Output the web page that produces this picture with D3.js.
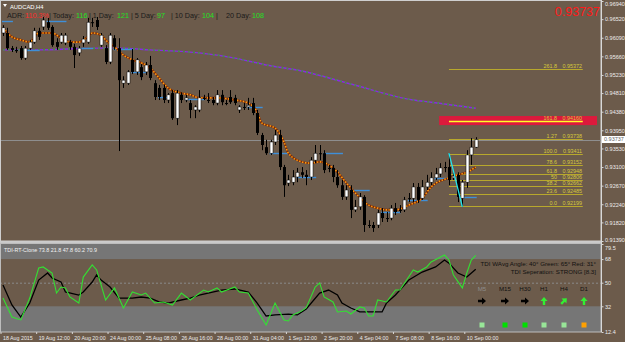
<!DOCTYPE html>
<html><head><meta charset="utf-8">
<script src="https://cdnjs.cloudflare.com/ajax/libs/d3/7.8.5/d3.min.js"></script>
<style>
body{margin:0;background:#6c5b4b;}
svg{display:block;font-family:"Liberation Sans",Arial,sans-serif;}
</style>
</head><body>
<svg id="c" width="625" height="342"></svg>
<script>
// ---------------- DATA ----------------
const opens  = [0.9620,0.9620,0.9585,0.9581,0.9585,0.9562,0.9585,0.9599,0.9625,0.9634,0.9645,0.9634,0.9599,0.9599,0.9597,0.9599,0.9588,0.9574,0.9597,0.9599,0.9645,0.9650,0.9592,0.9585,0.9553,0.9608,0.9585,0.9504,0.9504,0.9558,0.9530,0.9541,0.9530,0.9546,0.9504,0.9493,0.9493,0.9465,0.9481,0.9423,0.9477,0.9465,0.9458,0.9442,0.9442,0.9470,0.9465,0.9465,0.9458,0.9477,0.9458,0.9472,0.9470,0.9442,0.9449,0.9449,0.9458,0.9435,0.9384,0.9356,0.9342,0.9368,0.9384,0.9310,0.9273,0.9275,0.9287,0.9298,0.9292,0.9287,0.9326,0.9342,0.9342,0.9308,0.9308,0.9287,0.9268,0.9241,0.9257,0.9211,0.9218,0.9241,0.9176,0.9176,0.9176,0.9204,0.9192,0.9192,0.9215,0.9211,0.9211,0.9238,0.9238,0.9264,0.9238,0.9264,0.9275,0.9285,0.9294,0.9310,0.9310,0.9285,0.9292,0.9238,0.9275,0.9338,0.9356];
const highs  = [0.9638,0.9632,0.9590,0.9588,0.9590,0.9590,0.9604,0.9632,0.9632,0.9657,0.9655,0.9638,0.9608,0.9620,0.9620,0.9604,0.9595,0.9590,0.9613,0.9655,0.9655,0.9657,0.9620,0.9592,0.9620,0.9615,0.9608,0.9520,0.9534,0.9583,0.9562,0.9548,0.9553,0.9567,0.9511,0.9500,0.9500,0.9481,0.9488,0.9488,0.9483,0.9477,0.9465,0.9453,0.9488,0.9477,0.9481,0.9472,0.9488,0.9488,0.9465,0.9488,0.9477,0.9453,0.9458,0.9470,0.9470,0.9442,0.9389,0.9373,0.9373,0.9396,0.9396,0.9315,0.9292,0.9303,0.9308,0.9310,0.9303,0.9333,0.9361,0.9361,0.9349,0.9315,0.9315,0.9303,0.9280,0.9268,0.9268,0.9234,0.9250,0.9245,0.9187,0.9183,0.9211,0.9215,0.9206,0.9222,0.9227,0.9222,0.9241,0.9250,0.9273,0.9273,0.9280,0.9292,0.9298,0.9308,0.9319,0.9322,0.9342,0.9298,0.9298,0.9280,0.9349,0.9377,0.9379];
const lows   = [0.9613,0.9581,0.9576,0.9574,0.9558,0.9558,0.9581,0.9595,0.9604,0.9627,0.9627,0.9588,0.9581,0.9595,0.9592,0.9581,0.9539,0.9567,0.9588,0.9595,0.9634,0.9627,0.9588,0.9548,0.9548,0.9581,0.9347,0.9493,0.9500,0.9525,0.9523,0.9511,0.9523,0.9511,0.9465,0.9465,0.9458,0.9458,0.9419,0.9407,0.9458,0.9460,0.9423,0.9423,0.9437,0.9465,0.9458,0.9453,0.9453,0.9453,0.9453,0.9456,0.9453,0.9435,0.9442,0.9442,0.9430,0.9384,0.9349,0.9338,0.9338,0.9361,0.9303,0.9241,0.9266,0.9268,0.9275,0.9285,0.9268,0.9280,0.9319,0.9326,0.9296,0.9298,0.9275,0.9262,0.9234,0.9234,0.9192,0.9206,0.9211,0.9160,0.9169,0.9160,0.9169,0.9183,0.9183,0.9187,0.9199,0.9204,0.9206,0.9229,0.9229,0.9227,0.9234,0.9257,0.9268,0.9280,0.9287,0.9298,0.9268,0.9280,0.9229,0.9218,0.9262,0.9315,0.9354];
const closes = [0.9632,0.9585,0.9581,0.9578,0.9562,0.9585,0.9599,0.9625,0.9611,0.9650,0.9632,0.9592,0.9588,0.9615,0.9615,0.9588,0.9569,0.9585,0.9606,0.9645,0.9644,0.9634,0.9615,0.9553,0.9615,0.9588,0.9511,0.9511,0.9530,0.9530,0.9558,0.9518,0.9546,0.9516,0.9472,0.9472,0.9465,0.9477,0.9423,0.9481,0.9465,0.9470,0.9442,0.9449,0.9470,0.9469,0.9464,0.9458,0.9477,0.9460,0.9457,0.9460,0.9458,0.9449,0.9448,0.9453,0.9435,0.9389,0.9361,0.9342,0.9368,0.9384,0.9310,0.9268,0.9280,0.9287,0.9298,0.9292,0.9287,0.9326,0.9342,0.9341,0.9303,0.9307,0.9287,0.9268,0.9241,0.9257,0.9211,0.9218,0.9241,0.9176,0.9175,0.9169,0.9204,0.9192,0.9191,0.9215,0.9206,0.9210,0.9234,0.9237,0.9264,0.9234,0.9264,0.9275,0.9285,0.9294,0.9308,0.9309,0.9280,0.9289,0.9241,0.9275,0.9338,0.9356,0.93737];

const timeLabels    = ["18 Aug 2015","19 Aug 12:00","20 Aug 20:00","24 Aug 00:00","25 Aug 08:00","26 Aug 16:00","28 Aug 00:00","31 Aug 04:00","1 Sep 12:00","2 Sep 20:00","4 Sep 04:00","7 Sep 08:00","8 Sep 16:00","10 Sep 00:00"];
const timeLabelBars = [0,8,16,24,32,40,48,56,64,72,80,88,96,104];
const priceTicks    = [0.96940,0.96520,0.96090,0.95660,0.95230,0.94810,0.94380,0.93950,0.93530,0.93100,0.92670,0.92240,0.91820,0.91390];

const maFastBars = [0,2,4,6,8,11,13,15,17,19,20,22,23,25,27,29,31,33,35,37,40,42,44,48,52,55,57,58,61,63,64,67,69,71,73,75,77,79,82,84,86,88,91,94,96,100,102,104,106];
const maFastVals = [0.9632,0.9611,0.9604,0.9599,0.9620,0.9620,0.9608,0.9599,0.9599,0.9611,0.9620,0.9615,0.9604,0.9588,0.9569,0.9558,0.9551,0.9539,0.9516,0.9493,0.9481,0.9477,0.9470,0.9470,0.9465,0.9458,0.9437,0.9412,0.9400,0.9368,0.9342,0.9322,0.9319,0.9322,0.9315,0.9298,0.9273,0.9250,0.9222,0.9215,0.9211,0.9211,0.9222,0.9238,0.9264,0.9285,0.9292,0.9298,0.9310];
const maSlowBars = [0,7,22,26,33,44,52,59,67,78,92,96,106];
const maSlowVals = [0.9581,0.9581,0.9585,0.9585,0.9581,0.9574,0.9562,0.9546,0.9532,0.9502,0.9465,0.9460,0.9446];

const levelStart = [0,10,5,17,25,29,35,41,55,60,66,72,78,85,91,97,103];
const levelEnd   = [2,14,8,20,29,32,37,45,58,64,70,76,82,89,95,100,106];
const levelPrice = [0.9648,0.9648,0.9581,0.9585,0.9583,0.9530,0.9472,0.9468,0.9449,0.9342,0.9287,0.9342,0.9257,0.9206,0.9234,0.9285,0.9241];

const fibNames  = ["261.8","161.8","1.27","100.0","78.6","61.8","50","38.2","23.6","0.0"];
const fibPrices = [0.95372,0.94160,0.93738,0.93411,0.93152,0.92948,0.92806,0.92662,0.92485,0.92199];
const fibStartBar = 100, fibEndBar = 130;
const zoneLow = 0.9407, zoneHigh = 0.9428, zoneStartBar = 97.8, zoneEndBar = 133.2;
const zigzagBars = [100,103], zigzagPrices = [0.9342,0.9218];
const bidPrice = 0.93737;

const tdiGreenBars = [0,2,4,6,8,9,11,12,13,14,15,17,18,20,21,23,25,27,29,31,32,34,36,38,40,42,45,46,48,49,52,53,55,57,59,61,63,64,65,67,68,70,71,72,74,75,77,78,80,81,82,83,84,86,88,89,92,93,95,96,99,100,101,103,104,105,106];
const tdiGreen     = [38.3,23.8,21.6,38.3,61.2,62,57.4,42.1,46.7,46,39.1,34.5,54.3,63.5,59.7,36.8,46,30.7,42.9,40.6,42.1,34.5,35.3,33,42.1,36.8,44.4,42.9,46,42.9,46.7,42.9,42.1,29.2,17.7,34.5,21.6,20.8,25.4,28.5,31,46.7,49.8,39.1,35.3,27.7,28.4,26.1,31.5,30.7,24.6,24.6,36.8,35.3,44.4,44.4,59.7,58.1,62,65.8,71.1,67.3,55.9,46,57.4,67.3,70.9];
const tdiRedBars   = [0,2,4,6,8,10,11,13,14,17,18,20,21,22,24,26,29,31,33,35,37,40,42,44,46,49,52,55,57,59,61,64,66,68,71,73,75,76,78,80,85,86,88,91,94,97,99,100,102,104,106];
const tdiRed       = [48.2,33,23.8,34.5,52,57.4,53.6,50.5,42.9,40.6,42.9,50.5,55.9,52,46.7,38.3,38.3,39.1,38.3,35.3,34.5,36.8,38.3,40.6,42.1,44.4,45.2,42.9,34.5,24.6,25.4,26.1,25.4,30,42.1,44.4,40.6,34.5,30.7,27.7,27.7,34.5,40.6,52,58.1,62,67.3,64.9,57.4,54.3,60.2];
const tdiTicks = [79.5,68,50,32,12.4];
const tdiBandHigh = 68, tdiBandLow = 32, tdiMid = 50;
const tdiHeader = "TDI-RT-Clone 73.8 21.8 47.8 60.2 70.9";
const tdiInfo = ["TDI WAvg Angle: 40\u00B0  Green: 65\u00B0  Red: 31\u00B0", "TDI Seperation: STRONG [8.3]"];

const tfNames   = ["M5","M15","H30","H1","H4","D1"];
const tfArrows  = ["right","right","right","up","upright","up"];
const tfSquares = ["#98e698","#00e000","#00e000","#98e698","#98e698","#ffa000"];

const adrTexts  = ["ADR:","110.3%","| Today:","116","| 1 Day:","121","| 5 Day:","97","| 10 Day:","104","|","20 Day:","108"];
const adrColors = ["#1a1a1a","#ff2a2a","#1a1a1a","#22e022","#1a1a1a","#22e022","#1a1a1a","#22e022","#1a1a1a","#22e022","#1a1a1a","#1a1a1a","#22e022"];
const symbolTitle = "AUDCAD,H4";

// ---------------- LAYOUT ----------------
const W = 625, H = 342, PR = 601;
const mainTop = 1, mainBot = 241, indTop = 244, indBot = 332;
const adrX = [7,25,49,76,89,117,131,157,171,202,216,226,252];
const tfX = [482,505,525,544,564,584];

const svg = d3.select("#c");
const bg = "#6c5b4b", grey = "#767676";

svg.append("rect").attr("width",W).attr("height",H).attr("fill",bg);

const x = d3.scaleLinear().domain([0,134]).range([3,600.6]);
const y = d3.scaleLinear().domain([0.91390,0.96940]).range([mainBot,mainTop]);
const ty = d3.scaleLinear().domain([12.4,79.5]).range([indBot,indTop]);

const defs = svg.append("defs");
defs.append("clipPath").attr("id","cm").append("rect").attr("x",1).attr("y",1).attr("width",PR-1).attr("height",mainBot-1);
defs.append("clipPath").attr("id","ci").append("rect").attr("x",1).attr("y",indTop).attr("width",PR-1).attr("height",indBot-indTop);

// ---------- indicator pane background ----------
const ind = svg.append("g");
ind.append("rect").attr("x",0).attr("y",indTop).attr("width",PR).attr("height",ty(tdiBandHigh)-indTop).attr("fill",grey);
ind.append("rect").attr("x",0).attr("y",ty(tdiBandLow)).attr("width",PR).attr("height",indBot-ty(tdiBandLow)).attr("fill",grey);
ind.append("line").attr("x1",0).attr("x2",PR).attr("y1",ty(tdiMid)+0.5).attr("y2",ty(tdiMid)+0.5)
  .attr("stroke","#8a8a8a").attr("stroke-dasharray","2,2");

// separator and borders
svg.append("rect").attr("x",0).attr("y",mainBot).attr("width",PR).attr("height",2).attr("fill","#c9c9c9");
svg.append("rect").attr("x",0.5).attr("y",0.5).attr("width",PR-0.5).attr("height",mainBot-0.5).attr("fill","none").attr("stroke","#cfcfcf");
svg.append("rect").attr("x",0.5).attr("y",indTop-0.5).attr("width",PR-0.5).attr("height",indBot-indTop+0.5).attr("fill","none").attr("stroke","#bdbdbd");

// ---------- main pane ----------
const main = svg.append("g").attr("clip-path","url(#cm)");

main.append("rect").attr("x",x(zoneStartBar)).attr("y",y(zoneHigh)).attr("width",x(zoneEndBar)-x(zoneStartBar))
  .attr("height",y(zoneLow)-y(zoneHigh)).attr("fill","#dc1a3c");

main.append("line").attr("x1",0).attr("x2",PR).attr("y1",Math.round(y(bidPrice))+0.5).attr("y2",Math.round(y(bidPrice))+0.5)
  .attr("stroke","#8e8e8e").attr("stroke-width",1);

fibPrices.forEach((p,i)=>{
  const yy = Math.round(y(p))+0.5;
  const is161 = fibNames[i]==="161.8";
  main.append("line").attr("x1",x(fibStartBar)).attr("x2",x(fibEndBar)).attr("y1",yy).attr("y2",yy)
    .attr("stroke", is161 ? "#ffff2a" : "#b8a82c").attr("stroke-width", is161?1.5:1.2);
  main.append("text").attr("x",557).attr("y",yy-1.5).attr("text-anchor","end").attr("font-size",5.4)
    .attr("fill","#d6c83c").text(fibNames[i]);
  main.append("text").attr("x",582).attr("y",yy-1.5).attr("text-anchor","end").attr("font-size",5.4)
    .attr("fill","#d6c83c").text(p.toFixed(5));
});

const slowPts = maSlowBars.map((b,i)=>[x(b),y(maSlowVals[i])]);
const lineGen = d3.line().curve(d3.curveMonotoneX);
main.append("path").attr("d",lineGen(slowPts)).attr("fill","none").attr("stroke","#8a2be2").attr("stroke-width",1.4);
main.append("path").attr("d",lineGen(slowPts)).attr("fill","none").attr("stroke","#3c9a3c").attr("stroke-width",1.4).attr("stroke-dasharray","2,3");

levelPrice.forEach((p,i)=>{
  const yy = Math.round(y(p))+0.5;
  main.append("line").attr("x1",x(levelStart[i])-1).attr("x2",x(levelEnd[i])+1).attr("y1",yy).attr("y2",yy)
    .attr("stroke","#3f8fd8").attr("stroke-width",1.4);
});

const fastPts = maFastBars.map((b,i)=>[x(b),y(maFastVals[i])]);
main.append("path").attr("d",lineGen(fastPts)).attr("fill","none").attr("stroke","#7a2a08").attr("stroke-width",2);
main.append("path").attr("d",lineGen(fastPts)).attr("fill","none").attr("stroke","#ff9a10").attr("stroke-width",1.6).attr("stroke-dasharray","1.5,1.5");

const cg = main.append("g");
opens.forEach((o,i)=>{
  const cx = Math.round(x(i))+0.5;
  const c = closes[i];
  cg.append("line").attr("x1",cx).attr("x2",cx).attr("y1",y(highs[i])).attr("y2",y(lows[i]))
    .attr("stroke","#000").attr("stroke-width",1);
  const top = y(Math.max(o,c)), bot = y(Math.min(o,c));
  const bull = c > o;
  cg.append("rect").attr("x",cx-1.5).attr("y",top).attr("width",3).attr("height",Math.max(1,bot-top))
    .attr("fill", bull ? "#ffffff" : "#000000").attr("stroke","#000").attr("stroke-width",bull?0.5:0);
});

main.append("path").attr("d",d3.line()(zigzagBars.map((b,i)=>[x(b),y(zigzagPrices[i])])))
  .attr("fill","none").attr("stroke","#22e6f0").attr("stroke-width",1.3);

// ---------- indicator lines ----------
const ig = svg.append("g").attr("clip-path","url(#ci)");
const lin = d3.line();
ig.append("path").attr("d",lin(tdiRedBars.map((b,i)=>[x(b),ty(tdiRed[i])])))
  .attr("fill","none").attr("stroke","#000").attr("stroke-width",1.3);
ig.append("path").attr("d",lin(tdiGreenBars.map((b,i)=>[x(b),ty(tdiGreen[i])])))
  .attr("fill","none").attr("stroke","#33e033").attr("stroke-width",1.1);

svg.append("text").attr("x",4).attr("y",252).attr("font-size",5.4).attr("fill","#f2f2f2").text(tdiHeader);
tdiInfo.forEach((t,i)=>{
  svg.append("text").attr("x",596).attr("y",266+i*8).attr("text-anchor","end").attr("font-size",6.2)
    .attr("fill","#111").text(t);
});
tfNames.forEach((n,i)=>{
  svg.append("text").attr("x",tfX[i]).attr("y",291).attr("text-anchor","middle").attr("font-size",6.2)
    .attr("fill", i===0 ? "#8c8c8c" : "#111").text(n);
  const rot = tfArrows[i]==="right" ? 0 : (tfArrows[i]==="up" ? -90 : -45);
  const col = tfArrows[i]==="right" ? "#000" : "#33ee33";
  svg.append("path").attr("d","M-4,-1.2 L0,-1.2 L0,-3.5 L4,0 L0,3.5 L0,1.2 L-4,1.2 Z")
    .attr("transform",`translate(${tfX[i]},301) rotate(${rot})`).attr("fill",col);
  svg.append("rect").attr("x",tfX[i]-2.5).attr("y",322.5).attr("width",5).attr("height",5).attr("fill",tfSquares[i]);
});

// ---------- axes ----------
svg.append("line").attr("x1",PR+0.5).attr("x2",PR+0.5).attr("y1",0).attr("y2",indBot).attr("stroke","#d8d8d8");
const pAxis = svg.append("g").attr("transform",`translate(${PR+0.5},0)`)
  .call(d3.axisRight(y).tickValues(priceTicks).tickFormat(d3.format(".5f")).tickSize(2).tickPadding(1.5));
const tAxis = svg.append("g").attr("transform",`translate(${PR+0.5},0)`)
  .call(d3.axisRight(ty).tickValues(tdiTicks).tickFormat(d=>String(d)).tickSize(2).tickPadding(1.5));
[pAxis,tAxis].forEach(a=>{
  a.select(".domain").remove();
  a.selectAll("line").attr("stroke","#d8d8d8");
  a.selectAll("text").attr("font-size",5.5).attr("fill","#ececec").attr("font-family","Liberation Sans, Arial");
});
// keep edge labels inside the frame
pAxis.selectAll("text").filter(d=>d===priceTicks[0]).attr("dy","0.9em");
pAxis.selectAll("text").filter(d=>d===priceTicks[priceTicks.length-1]).attr("dy","0.1em");
tAxis.selectAll("text").filter(d=>d===tdiTicks[0]).attr("dy","1.05em");

const by = y(bidPrice);
svg.append("rect").attr("x",PR+1).attr("y",by-3.5).attr("width",W-PR-1).attr("height",7).attr("fill","#ffffff");
svg.append("text").attr("x",PR+3).attr("y",by).attr("dy","0.34em").attr("font-size",5.5).attr("fill","#666").text(bidPrice.toFixed(5));

const xAxis = svg.append("g").attr("transform",`translate(-2.5,${indBot})`)
  .call(d3.axisBottom(x).tickValues(timeLabelBars).tickFormat((d,i)=>timeLabels[i]).tickSize(2).tickPadding(2));
xAxis.select(".domain").remove();
xAxis.selectAll("line").attr("stroke","#d8d8d8");
xAxis.selectAll("text").attr("text-anchor","start").attr("x",2).attr("font-size",5.3).attr("fill","#ececec")
  .attr("font-family","Liberation Sans, Arial");

// ---------- header texts ----------
svg.append("path").attr("d","M3,4 L7,4 L5,7 Z").attr("fill","#fff");
svg.append("text").attr("x",10).attr("y",8.5).attr("font-size",5.8).attr("fill","#fff").text(symbolTitle);
adrTexts.forEach((t,i)=>{
  svg.append("text").attr("x",adrX[i]).attr("y",18).attr("font-size",7.2).attr("fill",adrColors[i]).text(t);
});
svg.append("text").attr("x",600).attr("y",16).attr("text-anchor","end").attr("font-size",12.5)
  .attr("fill","#ff1a1a").text(bidPrice.toFixed(5));
</script>
</body></html>
